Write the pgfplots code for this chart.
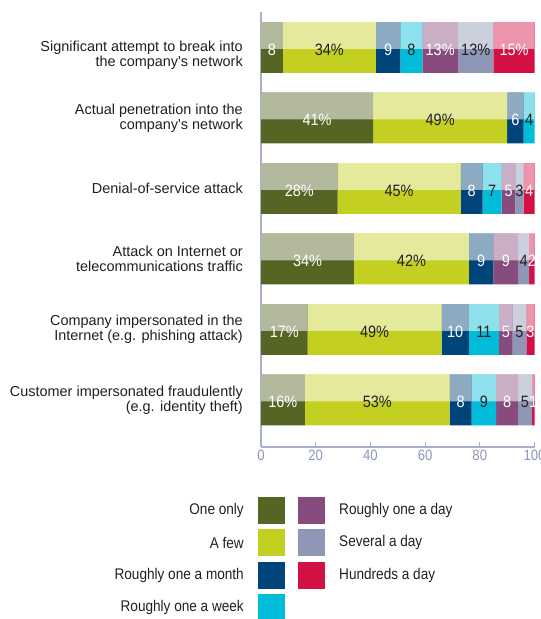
\documentclass[border=0pt]{standalone}
\usepackage{fontspec}
\setmainfont{Liberation Sans}[FakeStretch=0.88]
\newfontfamily\catfont{Liberation Sans}
\usepackage{pgfplots}
\usepackage{pgfplotstable}
\pgfplotsset{compat=1.18}

\definecolor{cOne}{HTML}{566424}
\definecolor{cFew}{HTML}{C3CF21}
\definecolor{cMonth}{HTML}{00457A}
\definecolor{cWeek}{HTML}{00BCD8}
\definecolor{cDay}{HTML}{874B7D}
\definecolor{cSev}{HTML}{8E97B5}
\definecolor{cHund}{HTML}{D41145}
\definecolor{axisc}{HTML}{A9AFD0}
\definecolor{tickc}{HTML}{8C95BE}
\definecolor{txt}{HTML}{231F20}

\pgfplotstableread{
row one few month week day sev hund lone lfew lmonth lweek lday lsev lhund
0   8   34  9     8    13  13  15   8    34\% 9  8     13\% 13\% 15\%
1   41  49  6     4    0   0   0    41\% 49\% 6  4     \mbox{} \mbox{} \mbox{}
2   28  45  8     7    5   3   4    28\% 45\% 8  7     5    3    4
3   34  42  9     0    9   4   2    34\% 42\% 9  \mbox{} 9 4    2
4   17  49  10    11   5   5   3    17\% 49\% 10 11    5    5    3
5   16  53  8     9    8   5   1    16\% 53\% 8  9     8    5    1
}\data

\pgfplotsset{
  base/.style={at={(261bp,172bp)}, anchor=south west,
    width=273.5bp, height=435bp, scale only axis,
    xbar stacked, xmin=0, xmax=100, ymin=-0.503, ymax=5.667, y dir=reverse},
  bare/.style={base, hide axis},
}

\begin{document}
\begin{tikzpicture}[x=1bp,y=1bp]
\useasboundingbox (0,0) rectangle (541,619);
% full-colour bars with the axis
\begin{axis}[base, bar width=0.72,
  axis x line*=bottom, axis y line*=left,
  axis line style={color=axisc, line width=1.2bp},
  xtick={0,20,...,100},
  tick align=inside, major tick length=5bp,
  x tick style={color=axisc, line width=1bp},
  y tick style={draw=none},
  /pgf/number format/assume math mode=true,
  xticklabel style={font=\fontsize{15}{15}\selectfont, text=tickc},
  ytick={0,...,5},
  yticklabels={{Significant attempt to break into\\the company's network},
               {Actual penetration into the\\company's network},
               {Denial-of-service attack},
               {Attack on Internet or\\telecommunications traffic},
               {Company impersonated in the\\Internet (e.g. phishing attack)},
               {Customer impersonated fraudulently\\(e.g. identity theft)}},
  yticklabel style={align=right, font=\catfont\fontsize{14.5}{15}\selectfont, text=txt,
    inner sep=0pt, xshift=-18bp, yshift={-8*(\ticknum==0)}},
]
\addplot[fill=cOne, draw=none] table[x=one, y=row] \data;
\addplot[fill=cFew, draw=none] table[x=few, y=row] \data;
\addplot[fill=cMonth, draw=none] table[x=month, y=row] \data;
\addplot[fill=cWeek, draw=none] table[x=week, y=row] \data;
\addplot[fill=cDay, draw=none] table[x=day, y=row] \data;
\addplot[fill=cSev, draw=none] table[x=sev, y=row] \data;
\addplot[fill=cHund, draw=none] table[x=hund, y=row] \data;
\end{axis}
% pale upper half (gloss)
\begin{axis}[bare, bar width=0.38, bar shift=-0.17]
\addplot[fill=cOne!45!white, draw=none] table[x=one, y=row] \data;
\addplot[fill=cFew!45!white, draw=none] table[x=few, y=row] \data;
\addplot[fill=cMonth!45!white, draw=none] table[x=month, y=row] \data;
\addplot[fill=cWeek!45!white, draw=none] table[x=week, y=row] \data;
\addplot[fill=cDay!45!white, draw=none] table[x=day, y=row] \data;
\addplot[fill=cSev!45!white, draw=none] table[x=sev, y=row] \data;
\addplot[fill=cHund!45!white, draw=none] table[x=hund, y=row] \data;
\end{axis}
% value labels (pgfplots centres them in each stacked segment)
\begin{axis}[bare, bar width=0.72,
  point meta=explicit symbolic,
  nodes near coords,
  every node near coord/.append style={anchor=center, font=\fontsize{16.5}{16.5}\selectfont, yshift=-2bp},
]
\addplot[draw=none, fill=none, every node near coord/.append style={text=white}] table[x=one, y=row, meta=lone] \data;
\addplot[draw=none, fill=none, every node near coord/.append style={text=txt}] table[x=few, y=row, meta=lfew] \data;
\addplot[draw=none, fill=none, every node near coord/.append style={text=white}] table[x=month, y=row, meta=lmonth] \data;
\addplot[draw=none, fill=none, every node near coord/.append style={text=txt}] table[x=week, y=row, meta=lweek] \data;
\addplot[draw=none, fill=none, every node near coord/.append style={text=white}] table[x=day, y=row, meta=lday] \data;
\addplot[draw=none, fill=none, every node near coord/.append style={text=txt}] table[x=sev, y=row, meta=lsev] \data;
\addplot[draw=none, fill=none, every node near coord/.append style={text=white}] table[x=hund, y=row, meta=lhund] \data;
\end{axis}

% legend
\begin{scope}[font=\fontsize{15.5}{15.5}\selectfont, text=txt]
\foreach \c/\t [count=\i] in {cOne/One only, cFew/A few, cMonth/Roughly one a month, cWeek/Roughly one a week}{
  \pgfmathsetmacro\yy{108.5-32.5*(\i-1)}
  \fill[\c] (258,\yy-13.5) rectangle (285,\yy+13.5);
  \node[anchor=east, inner sep=0pt] at (244,\yy) {\t};
}
\foreach \c/\t [count=\i] in {cDay/Roughly one a day, cSev/Several a day, cHund/Hundreds a day}{
  \pgfmathsetmacro\yy{108.5-32.5*(\i-1)}
  \fill[\c] (298,\yy-13.5) rectangle (325,\yy+13.5);
  \node[anchor=west, inner sep=0pt] at (339,\yy) {\t};
}
\end{scope}
\end{tikzpicture}
\end{document}
